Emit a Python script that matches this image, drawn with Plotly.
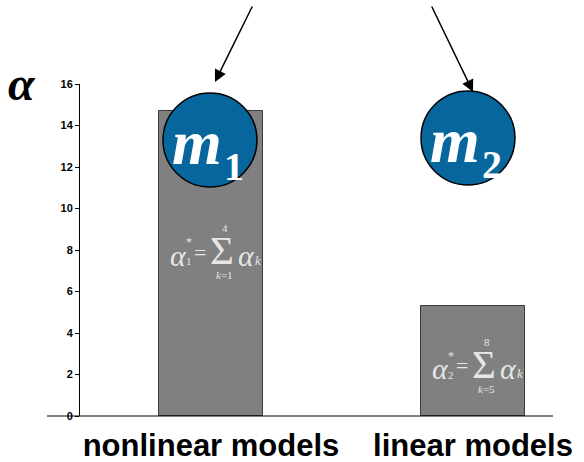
import plotly.graph_objects as go

# Data
categories = ["nonlinear models", "linear models"]
alpha_values = [14.7, 5.3]
y_ticks = [0, 2, 4, 6, 8, 10, 12, 14, 16]
model_labels = ["1", "2"]
sum_upper = ["4", "8"]
sum_lower = ["1", "5"]

x_pos = [0.5, 1.5]

W, H = 584, 462
ML, MR, MT, MB = 80, 31, 84, 46
plot_w = W - ML - MR
plot_h = H - MT - MB
px_per_x = 262.0
x_max = plot_w / px_per_x
px_per_y = plot_h / 16.0

BAR = "#808080"
BLUE = "#07679c"
TXT = "#e6e6e6"
SERIF = "Liberation Serif, Times New Roman, serif"
SANS = "Liberation Sans, Arial, sans-serif"

fig = go.Figure()
fig.add_trace(go.Bar(
    x=x_pos, y=alpha_values, width=0.4,
    marker=dict(color=BAR, line=dict(color="#3a3a3a", width=1)),
    hoverinfo="skip",
))

shapes = []
annotations = []

# horizontal baseline, running a little past the value axis
shapes.append(dict(type="line", xref="paper", yref="paper",
                   x0=-33 / plot_w, x1=1, y0=0, y1=0,
                   line=dict(color="black", width=1)))

# model circles (pixel offsets of centre from bar centre, height above baseline)
circle_px = [(-1, 276), (-5, 278)]
# arrow heads (offset from bar centre, height above baseline) and tail offsets
arrow_px = [((4, 334), (38, -77)), ((0, 324), (-42, -87))]
for i, xp in enumerate(x_pos):
    dx, dy = circle_px[i]
    cx = xp + dx / px_per_x
    cy = dy / px_per_y
    shapes.append(dict(type="circle", xref="x", yref="y",
                       xsizemode="pixel", ysizemode="pixel",
                       xanchor=cx, yanchor=cy, x0=-47, x1=47, y0=-47, y1=47,
                       fillcolor=BLUE, line=dict(color="black", width=1.5),
                       layer="above"))
    annotations.append(dict(x=cx, y=cy, xref="x", yref="y",
                            text="m", showarrow=False,
                            xshift=-13, yshift=-2,
                            font=dict(family=SERIF, size=64, color="white",
                                      weight="bold", style="italic")))
    annotations.append(dict(x=cx, y=cy, xref="x", yref="y",
                            text=model_labels[i], showarrow=False,
                            xshift=24, yshift=-26,
                            font=dict(family=SERIF, size=40, color="white",
                                      weight="bold")))
    (hx, hy), (ax, ay) = arrow_px[i]
    annotations.append(dict(x=xp + hx / px_per_x, y=hy / plot_h,
                            xref="x", yref="paper", text="", showarrow=True,
                            ax=ax, ay=ay, arrowhead=2, arrowsize=1.6,
                            arrowwidth=1.5, arrowcolor="black"))

# summation labels inside the bars
formula_y = [7.95, 2.46]
for i, xp in enumerate(x_pos):
    sx = xp + 11 / px_per_x
    sy = formula_y[i]

    def piece(text, dx, dy, size, italic=False):
        annotations.append(dict(x=sx, y=sy, xref="x", yref="y", text=text,
                                showarrow=False, xshift=dx, yshift=dy,
                                font=dict(family=SERIF, size=size, color=TXT,
                                          style="italic" if italic else "normal")))

    piece("α", -44, -4, 30, True)
    piece(model_labels[i], -33, -10, 11)
    piece("*", -33, 9, 12)
    piece("=", -22, -1, 22)
    piece("Σ", 0, 1, 41)
    piece(sum_upper[i], 3, 23, 11)
    piece("<i>k</i>=" + sum_lower[i], 2, -24, 11)
    piece("α", 24, -4, 30, True)
    piece("k", 36, -9, 13, True)

# axis symbol in the top-left corner
annotations.append(dict(x=0, y=1, xref="paper", yref="paper",
                        xanchor="center", yanchor="middle",
                        xshift=-58, yshift=1,
                        text="α", showarrow=False,
                        font=dict(family=SERIF, size=48, color="black",
                                  weight="bold", style="italic")))

fig.update_layout(
    width=W, height=H,
    margin=dict(l=ML, r=MR, t=MT, b=MB, pad=0),
    paper_bgcolor="white", plot_bgcolor="white",
    showlegend=False,
    bargap=0,
    xaxis=dict(range=[0, x_max], tickvals=x_pos, ticktext=categories,
               showline=False, showgrid=False, zeroline=False, ticks="",
               automargin=False, ticklabelstandoff=8,
               tickfont=dict(family=SANS, size=31, color="black", weight="bold"),
               fixedrange=True),
    yaxis=dict(range=[0, 16], tickvals=y_ticks, showline=True,
               linecolor="black", linewidth=1, ticks="outside", ticklen=4,
               tickcolor="black", showgrid=False, zeroline=False,
               automargin=False,
               tickfont=dict(family=SANS, size=11, color="black", weight="bold"),
               fixedrange=True),
    shapes=shapes,
    annotations=annotations,
)

fig.write_html("out.html")
